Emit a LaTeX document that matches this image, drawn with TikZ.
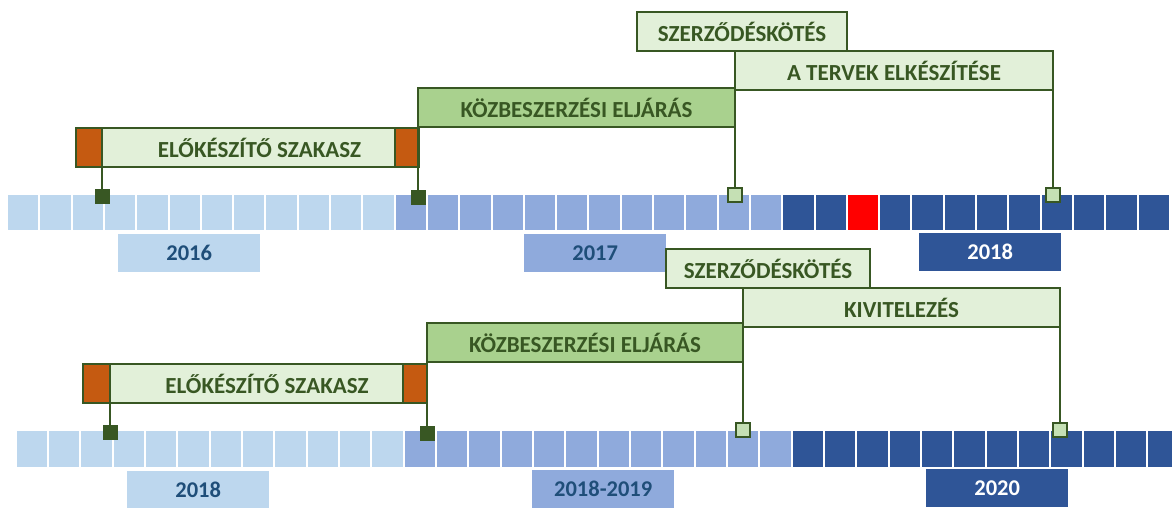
\documentclass[tikz,border=0pt]{standalone}
\usepackage{fontspec}
\setmainfont{Carlito}
\usetikzlibrary{positioning}
\usetikzlibrary{calc}
\definecolor{blueA}{HTML}{BDD7EE}
\definecolor{blueB}{HTML}{8FAADC}
\definecolor{blueC}{HTML}{2F5597}
\definecolor{yeartext}{HTML}{1F4E79}
\definecolor{greenD}{HTML}{385723}
\definecolor{greenL}{HTML}{E2F0D9}
\definecolor{greenM}{HTML}{A9D18E}
\definecolor{greenS}{HTML}{C5E0B4}
\definecolor{orangeD}{HTML}{C55A11}

\begin{document}
\begin{tikzpicture}[x=1pt,y=-1pt,
  bar/.style={draw=greenD,line width=2pt,minimum height=39pt,inner sep=0pt,outer sep=0pt,anchor=north west,text=greenD,font=\bfseries\fontsize{23}{26}\selectfont},
  endbox/.style={draw=greenD,fill=orangeD,line width=2pt,minimum height=39pt,inner sep=0pt,outer sep=0pt,anchor=north west},
  mkdark/.style={draw=greenD,fill=greenD,line width=1pt,minimum size=14pt,inner sep=0pt,outer sep=0pt},
  mklight/.style={draw=greenD,fill=greenS,line width=1.5pt,minimum size=14pt,inner sep=0pt,outer sep=0pt},
  link/.style={draw=greenD,line width=2pt},
  yearbox/.style={minimum width=142pt,minimum height=38pt,inner sep=0pt,anchor=north west,font=\bfseries\fontsize{22.5}{26}\selectfont}]
  \clip (0,0) rectangle (1172,507);
  \fill[white] (0,0) rectangle (1172,507);

  % top timeline
  \foreach \i in {0,...,11} \fill[blueA] ({8+\i*32.3},195) rectangle ++(30.3,35);
  \foreach \i in {12,...,23} \fill[blueB] ({8+\i*32.3},195) rectangle ++(30.3,35);
  \foreach \i in {24,...,35} \fill[blueC] ({8+\i*32.3},195) rectangle ++(30.3,35);
  \fill[red] ({8+26*32.3},195) rectangle ++(30.3,35);

  \node[yearbox,fill=blueA,text=yeartext] (y2016) at (118,234) {2016};
  \node[yearbox,fill=blueB,text=yeartext] (y2017) at (524,234) {2017};
  \node[yearbox,fill=blueC,text=white] (y2018a) at (919,233) {2018};

  \node[bar,fill=greenL,minimum width=343pt] (prep1) at (76,128) {\hspace*{24pt}ELŐKÉSZÍTŐ SZAKASZ};
  \node[endbox,minimum width=26pt] (prep1l) at (76,128) {};
  \node[endbox,minimum width=24pt] (prep1r) at (395,128) {};
  \node[bar,fill=greenM,minimum width=317pt] (kozb1) at (418,88) {KÖZBESZERZÉSI ELJÁRÁS};
  \node[bar,fill=greenL,minimum width=318pt] (terv) at (735,51) {A TERVEK ELKÉSZÍTÉSE};
  \node[bar,fill=greenL,minimum width=210pt] (szerz1) at (637,12) {SZERZŐDÉSKÖTÉS};

  \node[mkdark] (m11) at (102,196) {};
  \node[mkdark] (m12) at (418,197) {};
  \node[mklight] (m13) at (735,195) {};
  \node[mklight] (m14) at (1053,195) {};

  \draw[link] (prep1l.south east) -- (prep1l.south east |- m11.north);
  \draw[link] (kozb1.south west) -- (kozb1.south west |- m12.north);
  \draw[link] (terv.south west) -- (terv.south west |- m13.north);
  \draw[link] (terv.south east) -- (terv.south east |- m14.north);

  % bottom timeline
  \foreach \i in {0,...,11} \fill[blueA] ({16.7+\i*32.33},431) rectangle ++(30.3,36);
  \foreach \i in {12,...,23} \fill[blueB] ({16.7+\i*32.33},431) rectangle ++(30.3,36);
  \foreach \i in {24,...,35} \fill[blueC] ({16.7+\i*32.33},431) rectangle ++(30.3,36);

  \node[yearbox,fill=blueA,text=yeartext] (y2018b) at (127,471) {2018};
  \node[yearbox,fill=blueB,text=yeartext] (y2019) at (532,470) {2018-2019};
  \node[yearbox,fill=blueC,text=white] (y2020) at (926,469) {2020};

  \node[bar,fill=greenL,minimum width=344pt] (prep2) at (83,364) {\hspace*{24pt}ELŐKÉSZÍTŐ SZAKASZ};
  \node[endbox,minimum width=27pt] (prep2l) at (83,364) {};
  \node[endbox,minimum width=24pt] (prep2r) at (403,364) {};
  \node[bar,fill=greenM,minimum width=316pt] (kozb2) at (427,323) {KÖZBESZERZÉSI ELJÁRÁS};
  \node[bar,fill=greenL,minimum width=317pt] (kivit) at (743,288) {KIVITELEZÉS};
  \node[bar,fill=greenL,minimum width=204pt] (szerz2) at (666,249) {SZERZŐDÉSKÖTÉS};

  \node[mkdark] (m21) at (110,432) {};
  \node[mkdark] (m22) at (427,433) {};
  \node[mklight] (m23) at (743,430) {};
  \node[mklight] (m24) at (1060,430) {};

  \draw[link] (prep2l.south east) -- (prep2l.south east |- m21.north);
  \draw[link] (kozb2.south west) -- (kozb2.south west |- m22.north);
  \draw[link] (kivit.south west) -- (kivit.south west |- m23.north);
  \draw[link] (kivit.south east) -- (kivit.south east |- m24.north);
\end{tikzpicture}
\end{document}
